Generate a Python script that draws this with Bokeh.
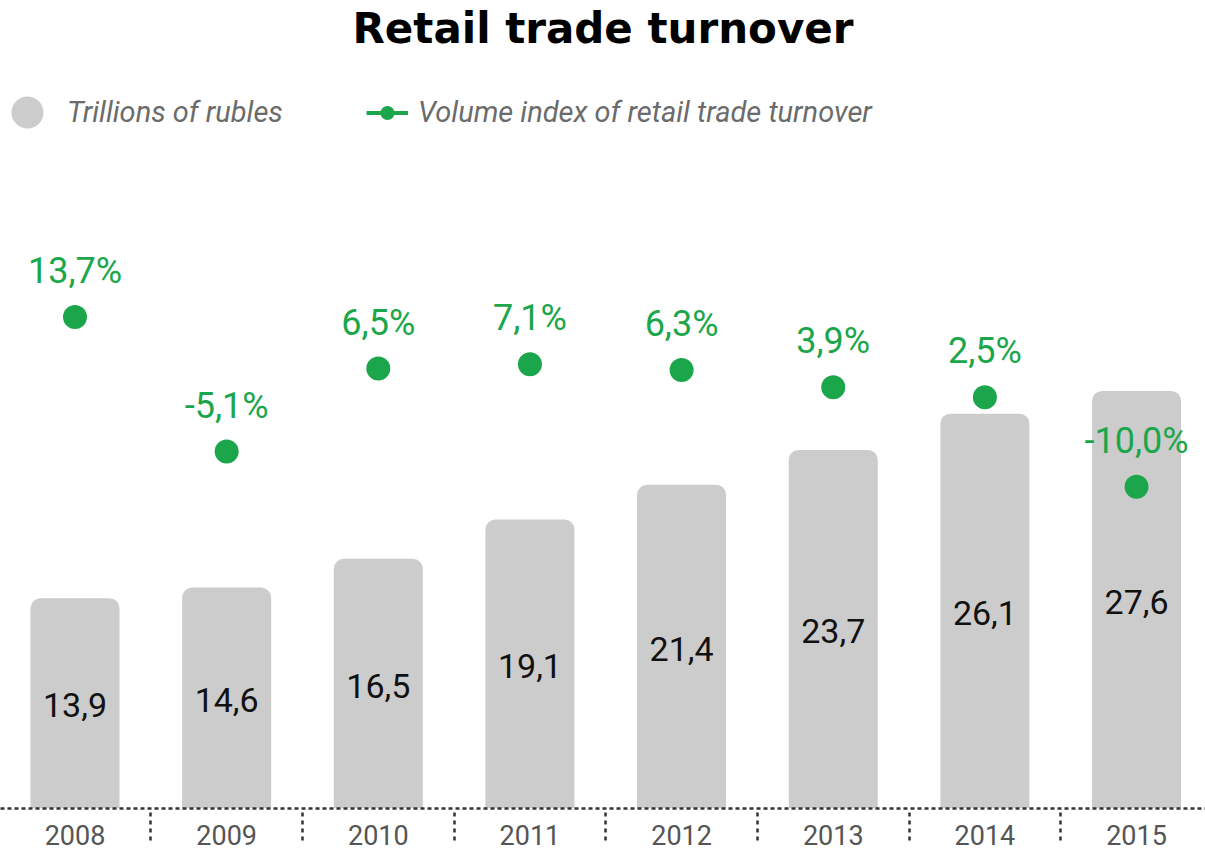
from bokeh.plotting import figure
from bokeh.models import (ColumnDataSource, Range1d, LinearAxis, FixedTicker,
                          Legend, LegendItem, Title)
from bokeh.core.properties import value
from bokeh.embed import file_html
from bokeh.resources import INLINE

# ---- data ----
years = ["2008", "2009", "2010", "2011", "2012", "2013", "2014", "2015"]
turnover = [13.9, 14.6, 16.5, 19.1, 21.4, 23.7, 26.1, 27.6]          # trillions of rubles
volume_index = [13.7, -5.1, 6.5, 7.1, 6.3, 3.9, 2.5, -10.0]          # %

GREEN = "#1ca64b"
BAR = "#cccccc"

idx = list(range(len(years)))
src = ColumnDataSource(dict(
    x=idx,
    turnover=turnover,
    mid=[v / 2 for v in turnover],
    tlabel=[f"{v:.1f}".replace(".", ",") for v in turnover],
    pct=volume_index,
    plabel=[f"{v:.1f}%".replace(".", ",") for v in volume_index],
))

p = figure(width=1205, height=852,
           x_range=Range1d(-0.4913, 7.4547), y_range=Range1d(0, 49.97),
           x_axis_type=None, y_axis_type=None,
           output_backend="svg", toolbar_location=None,
           min_border_left=0, min_border_right=0, min_border_top=52, min_border_bottom=44,
           outline_line_color=None, background_fill_color="white")
p.extra_y_ranges = {"pct": Range1d(-54.98, 50.68)}

p.title = Title(text="Retail trade turnover", align="center",
                text_font="DejaVu Sans", text_font_style="bold",
                text_font_size="42px", text_color="#000000", standoff=0)

# bars
p.vbar(x="x", top="turnover", bottom=0, width=0.587, source=src,
       fill_color=BAR, line_color=None, border_radius=(10, 10, 0, 0))
p.text(x="x", y="mid", text="tlabel", source=src, text_align="center",
       text_baseline="alphabetic", y_offset=2, text_font=value("Roboto"),
       text_font_size="34px", text_color="#111111")

# volume index dots
dots = p.scatter(x="x", y="pct", y_range_name="pct", size=24, source=src,
                 fill_color=GREEN, line_color=None)
p.text(x="x", y="pct", y_range_name="pct", text="plabel", source=src,
       text_align="center", text_baseline="alphabetic", y_offset=-46,
       text_font=value("Roboto"), text_font_size="36px", text_color=GREEN)

# legend proxies (hidden in plot)
bar_proxy = p.scatter(x="x", y="mid", source=src, fill_color=BAR, line_color=None,
                      visible=False)
line_proxy = p.line(x="x", y="pct", y_range_name="pct", source=src,
                    line_color=GREEN, line_width=4, visible=False)

leg_font = dict(label_text_font="Roboto", label_text_font_style="italic",
                label_text_font_size="29px", label_text_color="#6b6b6b",
                label_text_baseline="middle")

leg1 = Legend(items=[LegendItem(label="Trillions of rubles", renderers=[bar_proxy])],
              location=(-13, 656), orientation="horizontal",
              glyph_width=80, glyph_height=80, label_standoff=0,
              padding=0, margin=0, spacing=0, border_line_color=None,
              background_fill_alpha=0, **leg_font)
leg2 = Legend(items=[LegendItem(label="Volume index of retail trade turnover",
                                renderers=[line_proxy, dots])],
              location=(366, 678.5), orientation="horizontal",
              glyph_width=42, glyph_height=35, label_standoff=10,
              padding=0, margin=0, spacing=0, border_line_color=None,
              background_fill_alpha=0, **leg_font)
p.add_layout(leg1, "center")
p.add_layout(leg2, "center")

# category axis with dashed separators
xaxis = LinearAxis(
    ticker=FixedTicker(ticks=idx, minor_ticks=[i + 0.5 for i in idx[:-1]]),
    major_label_overrides={i: y for i, y in zip(idx, years)},
    axis_line_color="#333333", axis_line_width=2.5, axis_line_dash="4 3",
    major_tick_line_color=None, major_tick_in=0, major_tick_out=0,
    minor_tick_line_color="#333333", minor_tick_line_width=2.5,
    minor_tick_line_dash="4 4", minor_tick_in=0, minor_tick_out=32,
    major_label_standoff=-16, major_label_text_font="Roboto",
    major_label_text_font_size="27px", major_label_text_color="#555555",
)
p.add_layout(xaxis, "below")

open("out.html", "w").write(file_html(p, INLINE))
